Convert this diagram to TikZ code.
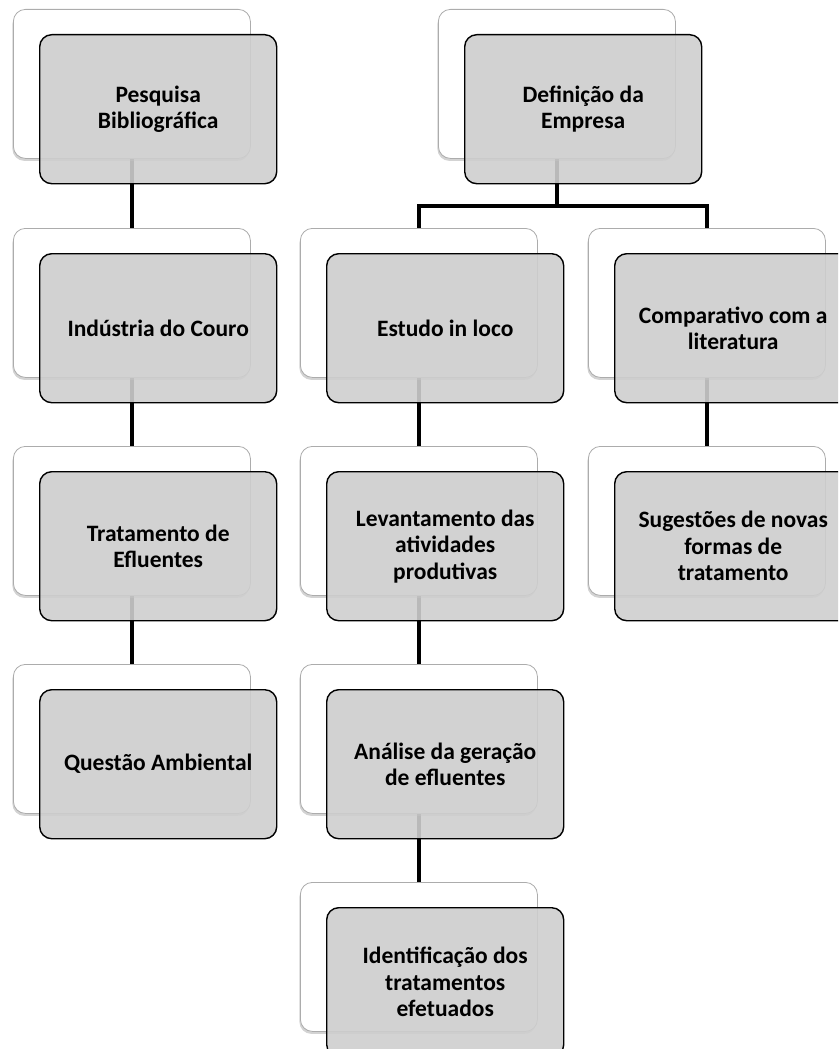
\documentclass[tikz,border=0pt]{standalone}
\usepackage{fontspec}
\setmainfont{Carlito}
\usetikzlibrary{shadows}
\pgfdeclarelayer{bg}
\pgfsetlayers{bg,main}
\definecolor{boxgrey}{RGB}{206,206,206}
\begin{document}
\begin{tikzpicture}[x=1pt,y=-1pt,
  back/.style={draw=gray!65, line width=0.8pt, fill=white, rounded corners=12pt,
    minimum width=237pt, minimum height=149pt, inner sep=0pt, anchor=north west,
    drop shadow={shadow xshift=-1pt, shadow yshift=-2.5pt, opacity=0.35}},
  front/.style={draw=black, line width=1.4pt, fill=boxgrey, fill opacity=0.9, text opacity=1,
    rounded corners=12pt, minimum width=237pt, minimum height=149pt, inner sep=0pt,
    anchor=north west, font=\bfseries\fontsize{23.5}{26.5}\selectfont, align=center},
  link/.style={line width=4pt, draw=black}]
\useasboundingbox (0,0) rectangle (838,1049);
\clip (0,0) rectangle (838,1049);
% left column
\node[back] (w1) at (13,9) {};
\node[front] (g1) at (39,34) {Pesquisa\\Bibliográfica};
\node[back] (w2) at (13,228) {};
\node[front] (g2) at (39,253) {Indústria do Couro};
\node[back] (w3) at (13,446) {};
\node[front] (g3) at (39,471) {Tratamento de\\Efluentes};
\node[back] (w4) at (13,664) {};
\node[front] (g4) at (39,689) {Questão Ambiental};
% top middle
\node[back] (wd) at (438,9) {};
\node[front] (gd) at (464,34) {Definição da\\Empresa};
% middle column
\node[back] (m1) at (300,228) {};
\node[front] (h1) at (326,253) {Estudo in loco};
\node[back] (m2) at (300,446) {};
\node[front] (h2) at (326,471) {Levantamento das\\atividades\\produtivas};
\node[back] (m3) at (300,664) {};
\node[front] (h3) at (326,689) {Análise da geração\\de efluentes};
\node[back] (m4) at (300,882) {};
\node[front] (h4) at (326,907) {Identificação dos\\tratamentos\\efetuados};
% right column
\node[back] (r1) at (588,228) {};
\node[front] (s1) at (614,253) {Comparativo com a\\literatura};
\node[back] (r2) at (588,446) {};
\node[front] (s2) at (614,471) {Sugestões de novas\\formas de\\tratamento};
\coordinate (bar) at (0,206);
\begin{pgfonlayer}{bg}
\draw[link] (w1.south) -- (w2.north);
\draw[link] (w2.south) -- (w3.north);
\draw[link] (w3.south) -- (w4.north);
\draw[link] (m1.south) -- (m2.north);
\draw[link] (m2.south) -- (m3.north);
\draw[link] (m3.south) -- (m4.north);
\draw[link] (r1.south) -- (r2.north);
\draw[link] (wd.south) -- (wd.south |- bar);
\draw[link] (m1.north) -- (m1.north |- bar) -| (r1.north);
\end{pgfonlayer}
\end{tikzpicture}
\end{document}
